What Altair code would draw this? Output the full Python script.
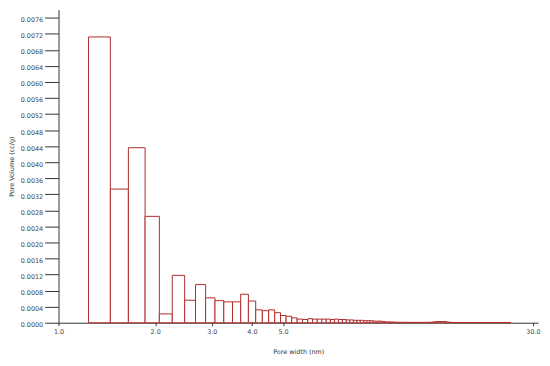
import altair as alt
import pandas as pd

# Bin edges (nm)
edges = [
    1.24, 1.45, 1.65, 1.86, 2.06, 2.26, 2.47, 2.67, 2.87, 3.07, 3.27, 3.48, 3.69,
    3.90, 4.11, 4.31, 4.51, 4.71, 4.91,
    5.11, 5.32, 5.53, 5.75, 5.97, 6.18, 6.39, 6.60, 6.81, 7.02, 7.23, 7.44, 7.65,
    7.86, 8.07, 8.28, 8.49, 8.70, 8.91, 9.12, 9.33, 9.54, 9.75, 9.96, 10.17,
    10.38, 10.59, 10.80, 11.01,
    11.3, 11.6, 11.9, 12.2, 12.5, 12.8, 13.1, 13.4, 13.7, 14.0, 14.3, 14.6,
    14.9, 15.2, 15.5, 15.8, 16.1, 16.4, 16.7, 17.0, 17.3, 17.6, 17.9, 18.2,
    18.5, 18.8, 19.1, 19.4, 19.7, 20.0, 20.3, 20.6, 20.9, 21.2, 21.5, 21.8,
    22.1, 22.4, 22.7, 23.0, 23.3, 23.6, 23.9, 24.2, 24.5, 24.8, 25.1, 25.4, 25.6,
]

# Pore volume (cc/g) per bin
volume = [
    0.00712, 0.00333, 0.00436, 0.00265, 0.00022, 0.00118, 0.00056, 0.00095,
    0.00062, 0.00055, 0.00052, 0.00052, 0.00071, 0.00054, 0.00032, 0.00030,
    0.00032, 0.00025,
    0.00018,
    0.00016, 0.00012, 0.00009, 0.00008, 0.00010, 0.00009, 0.00009, 0.00009,
    0.00009, 0.00008, 0.00009, 0.00008, 0.00008, 0.00007, 0.00007, 0.00006,
    0.00006, 0.00006, 0.00005, 0.00005, 0.00005, 0.00004, 0.00004, 0.00004,
    0.00003, 0.00002, 0.00002, 0.00002,
    0.000015, 0.000012, 0.000010, 0.000010, 0.000008, 0.000008, 0.000008,
    0.000008, 0.000008, 0.000008, 0.000010, 0.000012,
    0.00002, 0.00003, 0.00003, 0.00003, 0.00003, 0.00002,
    0.000010, 0.000008, 0.000006, 0.000006, 0.000006, 0.000006, 0.000006,
    0.000006, 0.000006, 0.000006, 0.000006, 0.000006, 0.000006, 0.000006,
    0.000006, 0.000006, 0.000006, 0.000006, 0.000006, 0.000006, 0.000006,
    0.000006, 0.000006, 0.000006, 0.000006, 0.000006, 0.000006, 0.000006,
    0.000006, 0.000006,
    0.000005,
]

x_ticks = [1.0, 2.0, 3.0, 4.0, 5.0, 30.0]
y_ticks = [0.0000, 0.0004, 0.0008, 0.0012, 0.0016, 0.0020, 0.0024, 0.0028,
           0.0032, 0.0036, 0.0040, 0.0044, 0.0048, 0.0052, 0.0056, 0.0060,
           0.0064, 0.0068, 0.0072, 0.0076]

assert len(edges) == len(volume) + 1

df = pd.DataFrame({
    "left": edges[:-1],
    "right": edges[1:],
    "volume": volume,
    "base": [0.0] * len(volume),
})

FONT = "DejaVu Sans"

chart = alt.Chart(df).mark_rect(
    fill="white", stroke="#b02a2a", strokeWidth=1
).encode(
    x=alt.X(
        "left:Q",
        scale=alt.Scale(type="log", domain=[1, 31.1], nice=False),
        axis=alt.Axis(
            values=x_ticks, format=".1f", title="Pore width (nm)",
            grid=False, tickSize=3, labelPadding=3, titlePadding=14,
            labelFlush=False,
        ),
    ),
    x2="right:Q",
    y=alt.Y(
        "volume:Q",
        scale=alt.Scale(domain=[0, 0.0078], nice=False),
        axis=alt.Axis(
            values=y_ticks, format=".4f", title="Pore Volume (cc/g)",
            grid=False, tickSize=14, labelPadding=2, titlePadding=6,
            labelOffset=2,
        ),
    ),
    y2="base:Q",
).properties(
    width=484,
    height=316,
    autosize=alt.AutoSizeParams(type="none"),
    padding={"left": 51, "top": 0, "right": 4, "bottom": 40},
).configure_view(
    stroke=None
).configure_axis(
    domainColor="#333333",
    tickColor="#333333",
    labelColor="#4a4a4a",
    titleColor="#333333",
    labelFont=FONT,
    titleFont=FONT,
    labelFontSize=6.5,
    titleFontSize=6.5,
    titleFontWeight="normal",
)

chart.save("out.html", embed_options={"renderer": "svg", "actions": False})
